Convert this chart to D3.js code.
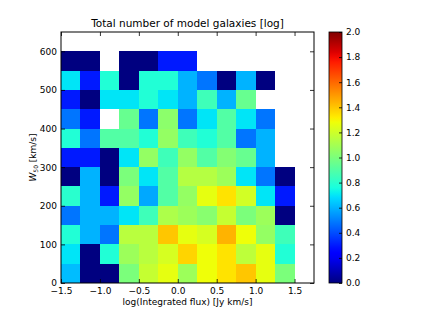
<!DOCTYPE html>
<html>
<head>
<meta charset="utf-8">
<script src="https://cdn.jsdelivr.net/npm/d3@7"></script>
<style>
	body { margin: 0; background: white; }
	svg text { font-family: "DejaVu Sans", sans-serif; fill: black; }
</style>
</head>
<body>
<svg id="chart" width="421" height="316"></svg>
<script>
// bin starts (x: log flux, bin 0.25 wide; y: W50, bin 50 wide)
var xBins = [-1.5, -1.25, -1.0, -0.75, -0.5, -0.25, 0.0, 0.25, 0.5, 0.75, 1.0, 1.25];
var yBins = [0, 50, 100, 150, 200, 250, 300, 350, 400, 450, 500, 550];

// log10 of galaxy count, one row per y bin (bottom to top), null = empty
var row0  = [0.62, 0, 0, 1.0, 1.18, 1.26, 1.08, 1.28, 1.34, 1.40, 1.26, 1.0];
var row1  = [0.70, 0, 0.78, 1.08, 1.15, 1.22, 1.37, 1.28, 1.34, 1.16, 1.26, 0.78];
var row2  = [0.78, 0.60, 0.48, 1.15, 1.15, 1.40, 1.26, 1.22, 1.44, 1.28, 1.06, 0.85];
var row3  = [0.48, 0.60, 0.60, 0.70, 0.85, 1.12, 1.08, 1.03, 1.18, 1.0, 1.08, 0];
var row4  = [0.80, 0.60, 0.30, 1.06, 0.58, 0.90, 1.06, 1.26, 1.34, 1.21, 0.70, 0.30];
var row5  = [0, 0.60, 0, 1.0, 0.70, 0.90, 1.14, 1.14, 1.08, 0.70, 0.48, 0];
var row6  = [0.30, 0.30, 0, 0.70, 1.06, 0.85, 1.06, 0.90, 1.02, 0.95, 0.60, null];
var row7  = [0.78, 0.48, 0.90, 0.90, 0.78, 1.06, 0.85, 0.78, 0.90, 0.48, 0.60, null];
var row8  = [0.48, 0.30, null, 0.95, 0.48, 1.04, 0.48, 0.70, 0.90, 0.70, 0.48, null];
var row9  = [0.30, 0, 0.70, 0.70, 0.78, 0.70, 0.60, 0.85, 0.60, 0.95, null, null];
var row10 = [0.70, 0.30, 0.78, 0, 0.78, 0.78, 0.60, 0.48, 0, 0.60, 0, null];
var row11 = [0, 0, null, 0, 0, 0.30, 0.30, null, null, null, null, null];
var counts = [row0, row1, row2, row3, row4, row5, row6, row7, row8, row9, row10, row11];

var xTicks = [-1.5, -1.0, -0.5, 0.0, 0.5, 1.0, 1.5];
var yTicks = [0, 100, 200, 300, 400, 500, 600];
var cbTicks = [0, 0.2, 0.4, 0.6, 0.8, 1.0, 1.2, 1.4, 1.6, 1.8, 2.0];

var binW = 0.25, binH = 50;

// matplotlib "jet"
function jet(t) {
	t = Math.max(0, Math.min(1, t));
	function seg(pts) {
		for (var i = 1; i < pts.length; i++) {
			if (t <= pts[i][0]) {
				var a = pts[i - 1], b = pts[i];
				return a[1] + (b[1] - a[1]) * (t - a[0]) / (b[0] - a[0]);
			}
		}
		return pts[pts.length - 1][1];
	}
	var r = seg([[0, 0], [0.35, 0], [0.66, 1], [0.89, 1], [1, 0.5]]);
	var g = seg([[0, 0], [0.125, 0], [0.375, 1], [0.64, 1], [0.91, 0], [1, 0]]);
	var b = seg([[0, 0.5], [0.11, 1], [0.34, 1], [0.65, 0], [1, 0]]);
	return d3.rgb(r * 255, g * 255, b * 255).toString();
}

var svg = d3.select("#chart");
var plot = { left: 61, right: 314, top: 32, bottom: 283 };

var x = d3.scaleLinear().domain([-1.5, 1.75]).range([plot.left, plot.right]);
var y = d3.scaleLinear().domain([0, 650]).range([plot.bottom, plot.top]);
var color = d3.scaleLinear().domain([0, 2]).range([0, 1]);

// cells
var cells = [];
counts.forEach(function(row, j) {
	row.forEach(function(v, i) {
		if (v !== null) cells.push({ x: xBins[i], y: yBins[j], v: v });
	});
});

svg.append("g")
	.attr("shape-rendering", "crispEdges")
	.selectAll("rect")
	.data(cells)
	.enter()
	.append("rect")
	.attr("x", function(d) { return x(d.x); })
	.attr("y", function(d) { return y(d.y + binH); })
	.attr("width", function(d) { return x(d.x + binW) - x(d.x); })
	.attr("height", function(d) { return y(d.y) - y(d.y + binH); })
	.style("fill", function(d) { return jet(color(d.v)); });

// axes (ticks inward, on all four sides)
var fmt = d3.format(".1f");
svg.append("g")
	.attr("transform", "translate(0," + plot.bottom + ")")
	.call(d3.axisBottom(x).tickValues(xTicks).tickFormat(fmt).tickSizeInner(-4).tickSizeOuter(0).tickPadding(5));
svg.append("g")
	.attr("transform", "translate(0," + plot.top + ")")
	.call(d3.axisTop(x).tickValues(xTicks).tickFormat("").tickSizeInner(-4).tickSizeOuter(0));
svg.append("g")
	.attr("transform", "translate(" + plot.left + ",0)")
	.call(d3.axisLeft(y).tickValues(yTicks).tickFormat(d3.format("d")).tickSizeInner(-4).tickSizeOuter(0).tickPadding(4));
svg.append("g")
	.attr("transform", "translate(" + plot.right + ",0)")
	.call(d3.axisRight(y).tickValues(yTicks).tickFormat("").tickSizeInner(-4).tickSizeOuter(0));

svg.selectAll(".domain").remove();
svg.selectAll(".tick line").attr("stroke", "black").attr("stroke-width", 0.8);
svg.selectAll(".tick text").style("font-size", "9px").style("font-family", "DejaVu Sans");

svg.append("rect")
	.attr("x", plot.left)
	.attr("y", plot.top)
	.attr("width", plot.right - plot.left)
	.attr("height", plot.bottom - plot.top)
	.style("fill", "none")
	.style("stroke", "black")
	.style("stroke-width", 1);

// title and labels
svg.append("text")
	.attr("x", (plot.left + plot.right) / 2)
	.attr("y", 27)
	.style("text-anchor", "middle")
	.style("font-size", "10.5px")
	.text("Total number of model galaxies [log]");

svg.append("text")
	.attr("x", (plot.left + plot.right) / 2)
	.attr("y", 305)
	.style("text-anchor", "middle")
	.style("font-size", "9px")
	.text("log(Integrated flux) [Jy km/s]");

var yLabel = svg.append("text")
	.attr("transform", "translate(36," + (plot.top + plot.bottom) / 2 + ") rotate(-90)")
	.style("text-anchor", "middle")
	.style("font-size", "9px");
yLabel.append("tspan").style("font-style", "italic").text("W");
yLabel.append("tspan").attr("dy", 2).style("font-size", "6px").text("50");
yLabel.append("tspan").attr("dy", -2).text(" [km/s]");

// colorbar
var cb = { left: 329, right: 342, top: 32, bottom: 283 };
var cbScale = d3.scaleLinear().domain([0, 2]).range([cb.bottom, cb.top]);

var defs = svg.append("defs");
var grad = defs.append("linearGradient")
	.attr("id", "jetGrad")
	.attr("x1", 0).attr("y1", 1).attr("x2", 0).attr("y2", 0);
d3.range(0, 1.0001, 0.02).forEach(function(t) {
	grad.append("stop")
		.attr("offset", t)
		.attr("stop-color", jet(t));
});

svg.append("rect")
	.attr("x", cb.left)
	.attr("y", cb.top)
	.attr("width", cb.right - cb.left)
	.attr("height", cb.bottom - cb.top)
	.style("fill", "url(#jetGrad)")
	.style("stroke", "black")
	.style("stroke-width", 0.8);

svg.append("g")
	.attr("transform", "translate(" + cb.right + ",0)")
	.call(d3.axisRight(cbScale).tickValues(cbTicks).tickFormat(fmt).tickSizeInner(-3).tickSizeOuter(0).tickPadding(4))
	.call(function(g) {
		g.select(".domain").remove();
		g.selectAll(".tick line").attr("stroke", "black").attr("stroke-width", 0.8);
		g.selectAll(".tick text").style("font-size", "9px").style("font-family", "DejaVu Sans");
	});
</script>
</body>
</html>
